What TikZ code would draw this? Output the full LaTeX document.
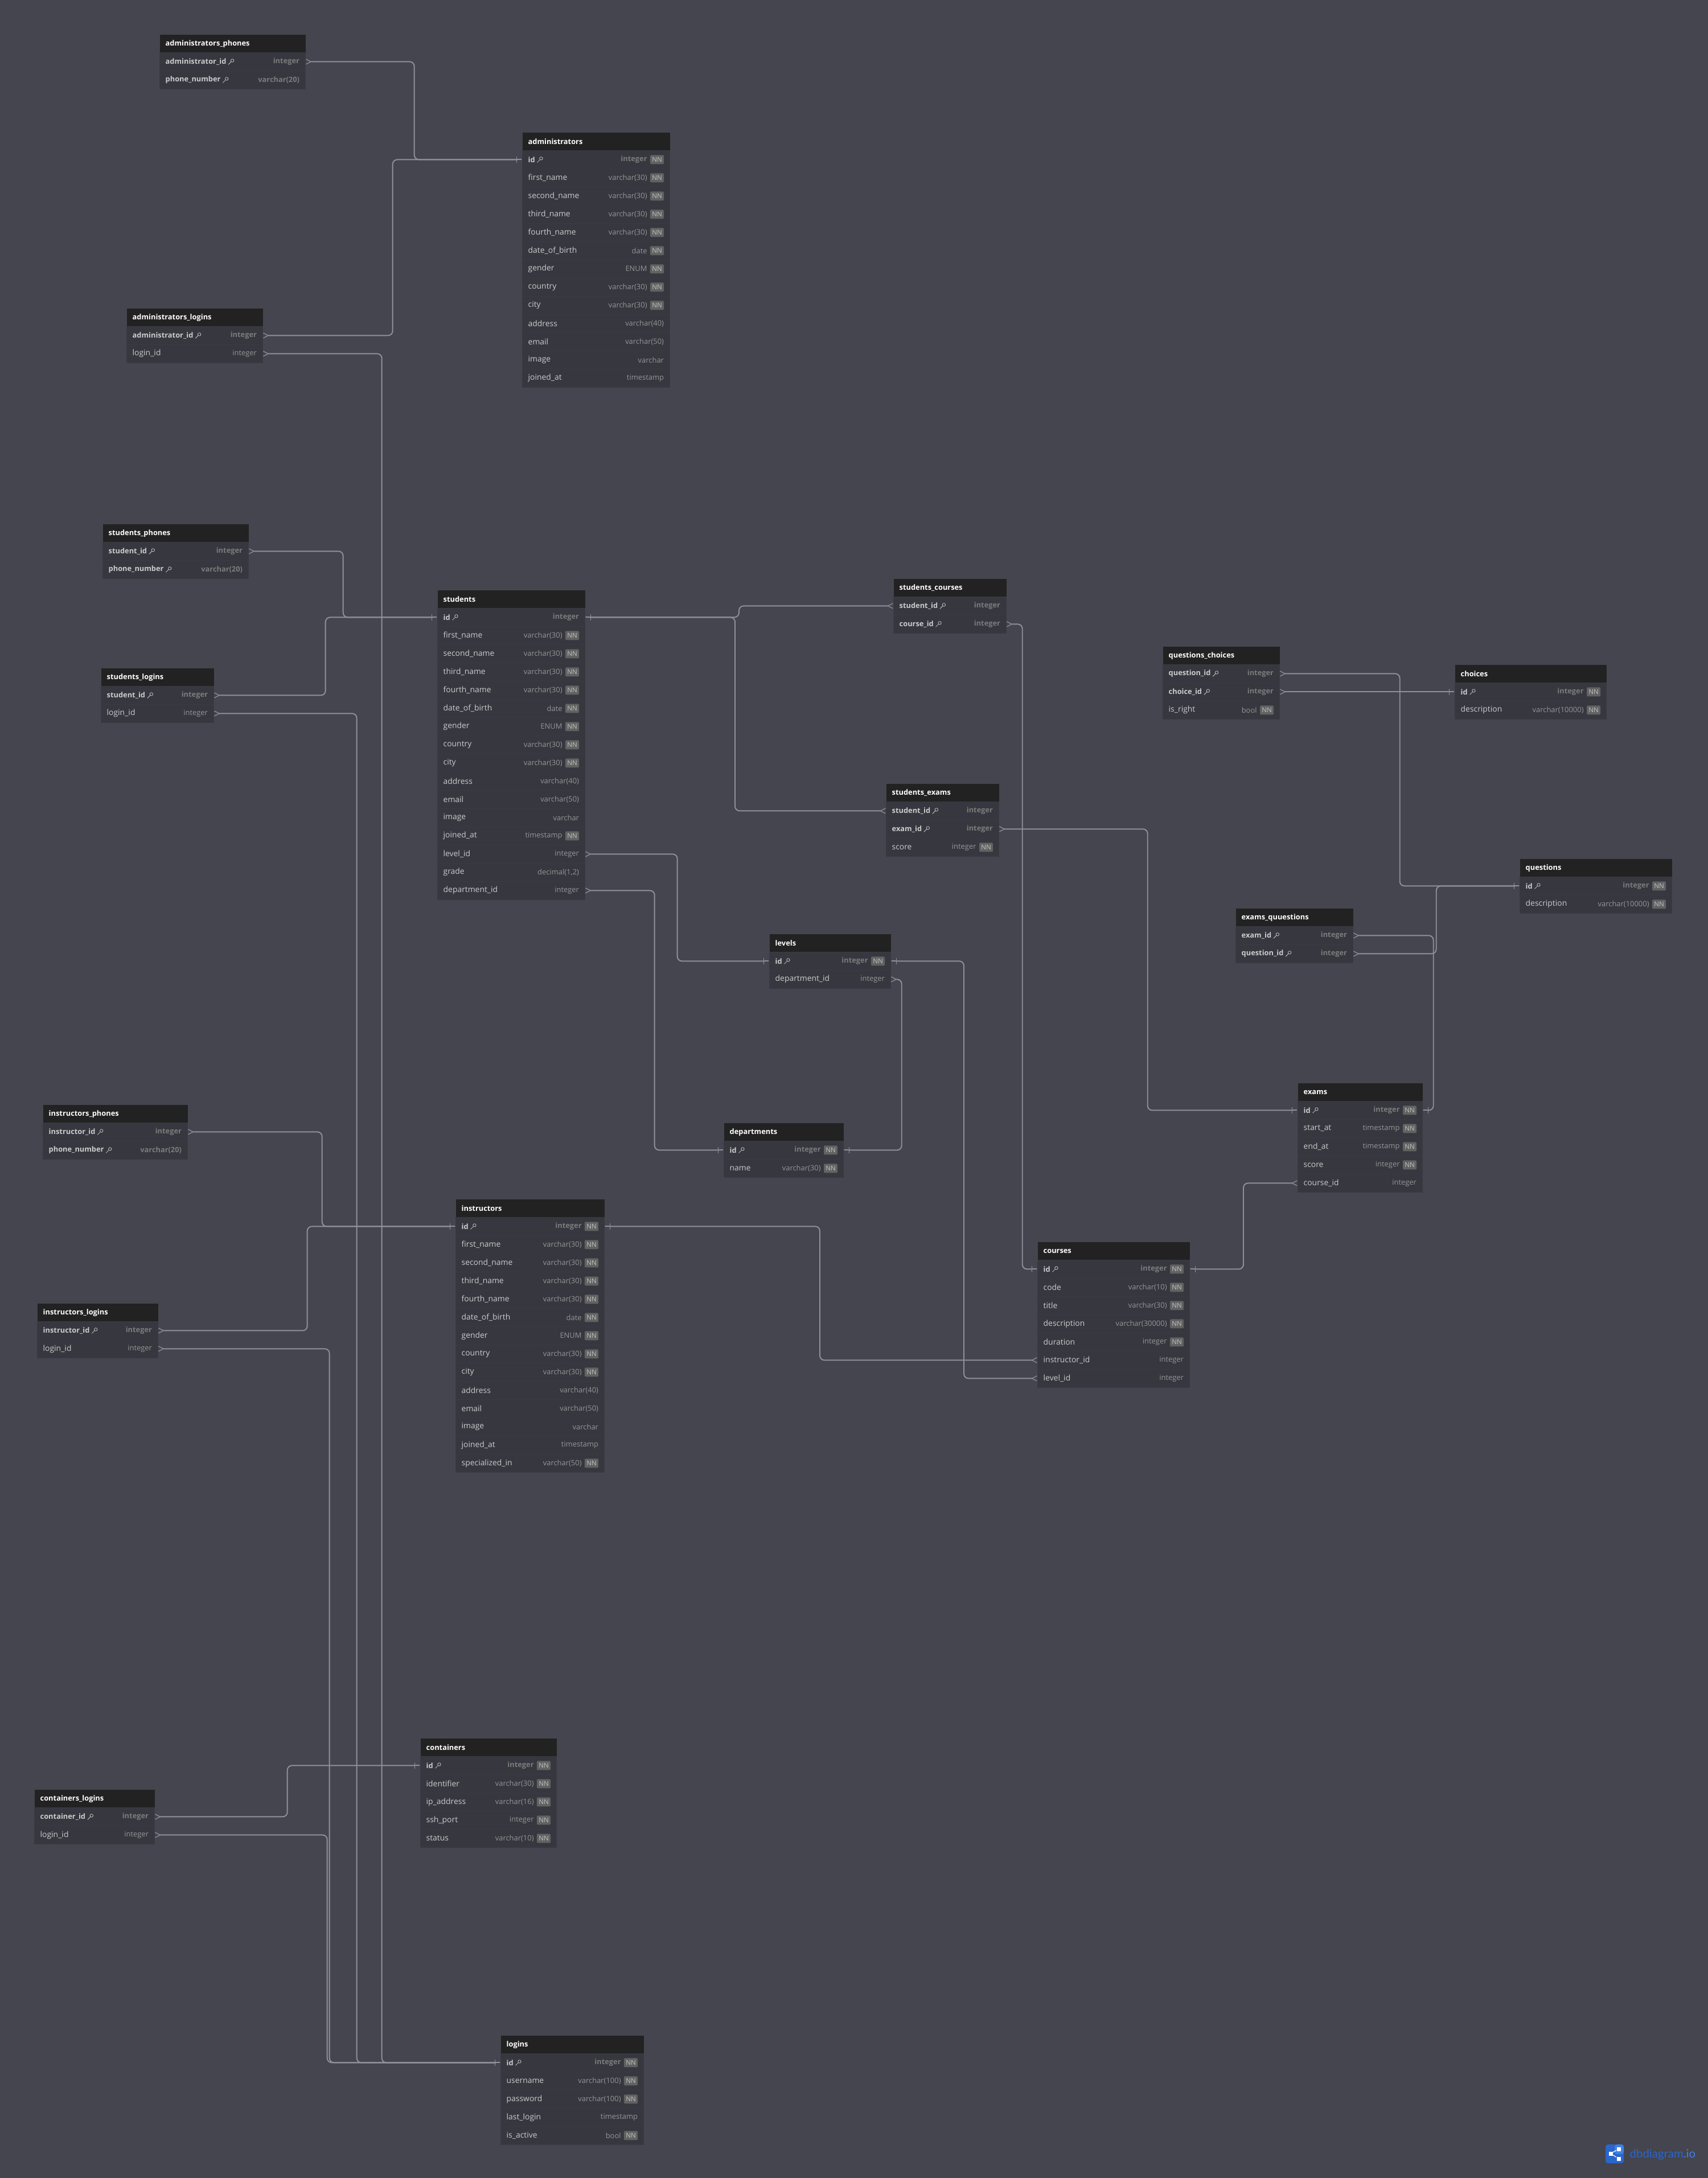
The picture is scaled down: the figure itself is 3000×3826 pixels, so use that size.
\documentclass[tikz,border=0pt]{standalone}
\usepackage{fontspec}
\usepackage{tikz}
\setmainfont{Open Sans}
\newfontfamily\logofont{Lato}
\usetikzlibrary{positioning,arrows.meta,calc}
\catcode`\_=12

\definecolor{canvas}{HTML}{44454E}
\definecolor{headfill}{HTML}{222222}
\definecolor{rowfill}{HTML}{36373F}
\definecolor{rowedge}{HTML}{393A42}
\definecolor{fieldtext}{HTML}{CCCCCC}
\definecolor{typetext}{HTML}{969696}
\definecolor{badgefill}{HTML}{626262}
\definecolor{badgetext}{HTML}{C4C4C4}
\definecolor{wire}{HTML}{8F9099}
\definecolor{logoblue}{HTML}{2A66CC}
\definecolor{logolight}{HTML}{3F80E8}

\newcommand{\dbsize}{\fontsize{3.95}{4.7}\selectfont}
\newcommand{\dbsmall}{\fontsize{3.68}{4.4}\selectfont}
\newcommand{\dbbold}{\fontsize{3.65}{4.4}\selectfont\bfseries}
\tikzset{
  manytip/.tip={Straight Barb[reversed,length=0.09cm,width=0.09cm,line width=0.35pt]},
  onetip/.tip={Bar[width=0.11cm,line width=0.35pt]Rectangle[length=0.09cm,width=0.55pt]},
  tablehead/.style={anchor=north west,fill=headfill,inner sep=0pt,minimum height=0.32cm},
  tablerow/.style={anchor=north west,fill=rowfill,draw=rowedge,line width=0.2pt,inner sep=0pt,minimum height=0.32cm},
  headlabel/.style={anchor=west,inner sep=0pt,text=white,font=\dbbold},
  keylabel/.style={anchor=west,inner sep=0pt,text=fieldtext,font=\dbbold},
  plainlabel/.style={anchor=west,inner sep=0pt,text=fieldtext,font=\dbsize},
  keytype/.style={anchor=east,inner sep=0pt,text=typetext!125,font=\dbbold},
  plaintype/.style={anchor=east,inner sep=0pt,text=typetext,font=\dbsmall},
  nnbadge/.style={anchor=east,fill=badgefill,rounded corners=0.4pt,inner sep=0pt,
    minimum width=0.24cm,minimum height=0.16cm,text=badgetext,font=\fontsize{3.3}{4}\selectfont},
  relation/.style={draw=wire,line width=0.55pt,rounded corners=2.3pt},
  keyicon/.pic={
    \draw[fieldtext,line width=0.22pt] (2,-2) circle [radius=2.7];
    \draw[fieldtext,line width=0.22pt] (0,0) -- (-5,5);
  }
}

% name, left, top, width, title, rows (field/type/key/notnull)
\newcommand{\dbtable}[6]{
  \node[tablehead,minimum width=#4*0.01cm] (#1) at (#2,#3) {};
  \node[headlabel] (#1-title) at ($(#1.west)+(10,0)$) {#5};
  \foreach \field/\ftype/\fkey/\fnn [count=\r] in {#6} {
    \node[tablerow,minimum width=#4*0.01cm] (#1-\field) at (#2,#3+32*\r) {};
    \ifnum\fkey=1
      \node[keylabel] (#1-\field-label) at ($(#1-\field.west)+(10,0)$) {\field};
      \pic at ($(#1-\field-label.east)+(8,0)$) {keyicon};
    \else
      \node[plainlabel] (#1-\field-label) at ($(#1-\field.west)+(10,0)$) {\field};
    \fi
    \ifnum\fnn=1
      \node[nnbadge] (#1-\field-nn) at ($(#1-\field.east)+(-10,0)$) {NN};
      \coordinate (typeend) at ($(#1-\field-nn.west)+(-4,0)$);
    \else
      \coordinate (typeend) at ($(#1-\field.east)+(-10,0)$);
    \fi
    \ifnum\fkey=1
      \node[keytype] (#1-\field-type) at (typeend) {\ftype};
    \else
      \node[plaintype] (#1-\field-type) at (typeend) {\ftype};
    \fi
  }
}

\begin{document}
\begin{tikzpicture}[x=0.01cm,y=-0.01cm]

% background
\useasboundingbox (0,0) rectangle (3000,3826);
\fill[canvas] (0,0) rectangle (3000,3826);

% administrators
\dbtable{administrators_phones}{280}{60}{256}{administrators_phones}{
  administrator_id/integer/1/0, phone_number/varchar(20)/1/0}
\dbtable{administrators}{917}{232}{259}{administrators}{
  id/integer/1/1, first_name/varchar(30)/0/1, second_name/varchar(30)/0/1, third_name/varchar(30)/0/1,
  fourth_name/varchar(30)/0/1, date_of_birth/date/0/1, gender/ENUM/0/1, country/varchar(30)/0/1,
  city/varchar(30)/0/1, address/varchar(40)/0/0, email/varchar(50)/0/0, image/varchar/0/0, joined_at/timestamp/0/0}
\dbtable{administrators_logins}{222}{541}{239}{administrators_logins}{
  administrator_id/integer/1/0, login_id/integer/0/0}

% students
\dbtable{students_phones}{180}{920}{256}{students_phones}{
  student_id/integer/1/0, phone_number/varchar(20)/1/0}
\dbtable{students_logins}{177}{1173}{198}{students_logins}{
  student_id/integer/1/0, login_id/integer/0/0}
\dbtable{students}{768}{1036}{259}{students}{
  id/integer/1/0, first_name/varchar(30)/0/1, second_name/varchar(30)/0/1, third_name/varchar(30)/0/1,
  fourth_name/varchar(30)/0/1, date_of_birth/date/0/1, gender/ENUM/0/1, country/varchar(30)/0/1,
  city/varchar(30)/0/1, address/varchar(40)/0/0, email/varchar(50)/0/0, image/varchar/0/0,
  joined_at/timestamp/0/1, level_id/integer/0/0, grade/{decimal(1,2)}/0/0, department_id/integer/0/0}
\dbtable{students_courses}{1569}{1016}{198}{students_courses}{
  student_id/integer/1/0, course_id/integer/1/0}
\dbtable{students_exams}{1556}{1376}{198}{students_exams}{
  student_id/integer/1/0, exam_id/integer/1/0, score/integer/0/1}

% levels and departments
\dbtable{levels}{1351}{1640}{213}{levels}{
  id/integer/1/1, department_id/integer/0/0}
\dbtable{departments}{1271}{1972}{210}{departments}{
  id/integer/1/1, name/varchar(30)/0/1}

% questions and exams
\dbtable{questions_choices}{2042}{1135}{205}{questions_choices}{
  question_id/integer/1/0, choice_id/integer/1/0, is_right/bool/0/1}
\dbtable{choices}{2555}{1167}{266}{choices}{
  id/integer/1/1, description/varchar(10000)/0/1}
\dbtable{questions}{2669}{1508}{267}{questions}{
  id/integer/1/1, description/varchar(10000)/0/1}
\dbtable{exams_quuestions}{2170}{1595}{206}{exams_quuestions}{
  exam_id/integer/1/0, question_id/integer/1/0}
\dbtable{exams}{2279}{1902}{219}{exams}{
  id/integer/1/1, start_at/timestamp/0/1, end_at/timestamp/0/1, score/integer/0/1, course_id/integer/0/0}

% instructors
\dbtable{instructors_phones}{75}{1940}{254}{instructors_phones}{
  instructor_id/integer/1/0, phone_number/varchar(20)/1/0}
\dbtable{instructors_logins}{65}{2289}{212}{instructors_logins}{
  instructor_id/integer/1/0, login_id/integer/0/0}
\dbtable{instructors}{800}{2106}{261}{instructors}{
  id/integer/1/1, first_name/varchar(30)/0/1, second_name/varchar(30)/0/1, third_name/varchar(30)/0/1,
  fourth_name/varchar(30)/0/1, date_of_birth/date/0/1, gender/ENUM/0/1, country/varchar(30)/0/1,
  city/varchar(30)/0/1, address/varchar(40)/0/0, email/varchar(50)/0/0, image/varchar/0/0,
  joined_at/timestamp/0/0, specialized_in/varchar(50)/0/1}
\dbtable{courses}{1822}{2181}{267}{courses}{
  id/integer/1/1, code/varchar(10)/0/1, title/varchar(30)/0/1, description/varchar(30000)/0/1,
  duration/integer/0/1, instructor_id/integer/0/0, level_id/integer/0/0}

% containers and logins
\dbtable{containers}{738}{3053}{239}{containers}{
  id/integer/1/1, identifier/varchar(30)/0/1, ip_address/varchar(16)/0/1, ssh_port/integer/0/1, status/varchar(10)/0/1}
\dbtable{containers_logins}{60}{3143}{211}{containers_logins}{
  container_id/integer/1/0, login_id/integer/0/0}
\dbtable{logins}{879}{3575}{251}{logins}{
  id/integer/1/1, username/varchar(100)/0/1, password/varchar(100)/0/1, last_login/timestamp/0/0, is_active/bool/0/1}

% connectors to administrators
\draw[relation,manytip-onetip] (administrators_phones-administrator_id.east) -- ++(191,0) |- (administrators-id.west);
\draw[relation,manytip-onetip] (administrators_logins-administrator_id.east) -- ++(228,0) |- (administrators-id.west);

% connectors to students
\draw[relation,manytip-onetip] (students_phones-student_id.east) -- ++(166,0) |- (students-id.west);
\draw[relation,manytip-onetip] (students_logins-student_id.east) -- ++(196,0) |- (students-id.west);
\draw[relation,manytip-onetip] (students_courses-student_id.west) -- ++(-271,0) |- (students-id.east);
\draw[relation,manytip-onetip] (students_exams-student_id.west) -- ++(-265,0) |- (students-id.east);

% connectors to instructors
\draw[relation,manytip-onetip] (instructors_phones-instructor_id.east) -- ++(236,0) |- (instructors-id.west);
\draw[relation,manytip-onetip] (instructors_logins-instructor_id.east) -- ++(262,0) |- (instructors-id.west);
\draw[relation,manytip-onetip] (courses-instructor_id.west) -- ++(-382,0) |- (instructors-id.east);

% connectors to logins
\draw[relation,manytip-onetip] (administrators_logins-login_id.east) -- ++(209,0) |- (logins-id.west);
\draw[relation,manytip-onetip] (students_logins-login_id.east) -- ++(251,0) |- (logins-id.west);
\draw[relation,manytip-onetip] (instructors_logins-login_id.east) -- ++(301,0) |- (logins-id.west);
\draw[relation,manytip-onetip] (containers_logins-login_id.east) -- ++(303,0) |- (logins-id.west);
\draw[relation,manytip-onetip] (containers_logins-container_id.east) -- ++(233,0) |- (containers-id.west);

% connectors to levels and departments
\draw[relation,manytip-onetip] (students-level_id.east) -- ++(162,0) |- (levels-id.west);
\draw[relation,manytip-onetip] (courses-level_id.west) -- ++(-129,0) |- (levels-id.east);
\draw[relation,manytip-onetip] (students-department_id.east) -- ++(122,0) |- (departments-id.west);
\draw[relation,manytip-onetip] (levels-department_id.east) -- ++(19,0) |- (departments-id.east);

% connectors to courses and exams
\draw[relation,manytip-onetip] (students_courses-course_id.east) -- ++(28,0) |- (courses-id.west);
\draw[relation,manytip-onetip] (exams-course_id.west) -- ++(-95,0) |- (courses-id.east);
\draw[relation,manytip-onetip] (students_exams-exam_id.east) -- ++(261,0) |- (exams-id.west);
\draw[relation,manytip-onetip] (exams_quuestions-exam_id.east) -- ++(141,0) |- (exams-id.east);

% connectors to questions and choices
\draw[relation,manytip-onetip] (questions_choices-question_id.east) -- ++(211,0) |- (questions-id.west);
\draw[relation,manytip-onetip] (exams_quuestions-question_id.east) -- ++(146,0) |- (questions-id.west);
\draw[relation,manytip-onetip] (questions_choices-choice_id.east) -- (choices-id.west);

% logo
\fill[logoblue,rounded corners=1.2pt] (2820,3767) rectangle (2852,3800);
\fill[logolight,rounded corners=1.2pt] (2836,3767) rectangle (2852,3784);
\node[anchor=center,fill=white,inner sep=0pt,minimum size=0.07cm] (logohub) at (2829,3783) {};
\node[anchor=center,fill=white,inner sep=0pt,minimum size=0.07cm] (logotop) at (2843,3775) {};
\node[anchor=center,fill=white,inner sep=0pt,minimum size=0.07cm] (logobot) at (2843,3792) {};
\draw[white,line width=0.35pt] (logohub) -- (logotop);
\draw[white,line width=0.35pt] (logohub) -- (logobot);
\node[anchor=west,inner sep=0pt,font=\logofont\fontsize{5.8}{7}\selectfont] (logotext) at (2862,3785)
  {\textcolor{logoblue}{dbdiagram}\textcolor{logolight}{.io}};

\end{tikzpicture}
\end{document}
